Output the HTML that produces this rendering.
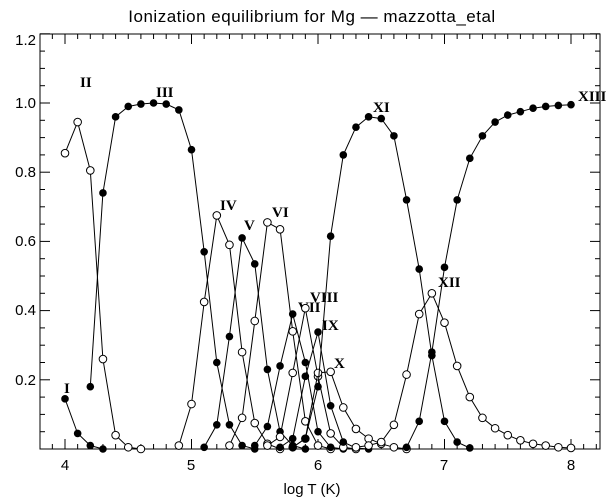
<!DOCTYPE html>
<html><head><meta charset="utf-8"><style>
html,body{margin:0;padding:0;background:#fff;}
svg{display:block}
.t{font-family:"Liberation Sans",sans-serif;font-size:15px;fill:#000}
.r{font-family:"Liberation Serif",serif;font-size:15px;font-weight:bold;fill:#000}
</style></head><body>
<svg id="s" width="615" height="504" xmlns="http://www.w3.org/2000/svg">
<rect width="615" height="504" fill="#fff"/>
<text class="t" x="312" y="22" text-anchor="middle" style="font-size:17px;letter-spacing:0.5px">Ionization equilibrium for Mg —  mazzotta_etal</text>
<text class="t" x="312" y="494" text-anchor="middle">log T (K)</text>
<rect x="40" y="34" width="560" height="415" fill="none" stroke="#000" stroke-width="1"/>
<g class="t" text-anchor="middle">
<text x="65" y="470">4</text><text x="191" y="470">5</text><text x="318" y="470">6</text><text x="444" y="470">7</text><text x="571" y="470">8</text>
</g>
<g class="t" text-anchor="end">
<text x="36" y="45">1.2</text><text x="36" y="108">1.0</text><text x="36" y="177">0.8</text><text x="36" y="246">0.6</text><text x="36" y="315">0.4</text><text x="36" y="385">0.2</text>
</g>
<g class="r">
<text x="64" y="393">I</text><text x="80" y="87">II</text><text x="156" y="97">III</text><text x="220" y="210">IV</text><text x="244" y="230">V</text><text x="272" y="217">VI</text><text x="298" y="312">VII</text><text x="310" y="302">VIII</text><text x="322" y="330">IX</text><text x="334" y="368">X</text><text x="373" y="112">XI</text><text x="438" y="287">XII</text><text x="578" y="101">XIII</text>
</g>
<g id="g"></g>
</svg>
<script>
var X=function(t){return 65+(t-4)*126.5},Y=function(v){return 449-v*346};
var S=[
[4.0,[0.145,0.045,0.01,0.0]],
[4.0,[0.855,0.945,0.805,0.26,0.04,0.005,0]],
[4.2,[0.18,0.74,0.96,0.99,0.997,1.0,0.997,0.98,0.865,0.57,0.25,0.07,0.01,0]],
[4.9,[0.01,0.13,0.425,0.675,0.59,0.28,0.075,0.015,0]],
[5.1,[0.005,0.07,0.325,0.61,0.535,0.23,0.05,0.01,0]],
[5.3,[0.01,0.09,0.37,0.655,0.635,0.34,0.08,0.01,0]],
[5.5,[0.01,0.065,0.24,0.39,0.25,0.05,0.005,0]],
[5.6,[0.01,0.035,0.22,0.407,0.21,0.045,0.005,0]],
[5.7,[0.005,0.03,0.21,0.338,0.125,0.02,0.003,0]],
[5.8,[0.005,0.03,0.22,0.223,0.12,0.058,0.03,0.015,0.005,0]],
[5.8,[0.005,0.03,0.18,0.615,0.85,0.93,0.96,0.955,0.905,0.72,0.52,0.27,0.08,0.02,0.003]],
[6.3,[0.005,0.01,0.02,0.07,0.215,0.39,0.45,0.365,0.24,0.15,0.09,0.06,0.04,0.025,0.015,0.01,0.005,0.003]],
[6.7,[0.005,0.08,0.28,0.525,0.72,0.84,0.905,0.945,0.965,0.975,0.985,0.99,0.993,0.995]]
];
var h='';
// ticks
for(var i=0;i<=55;i++){var t=3.8+i*0.1;var x=X(t);if(x<40||x>600)continue;var L=(Math.abs(t-Math.round(t))<0.01)?10:5;
h+='<line x1="'+x+'" y1="449" x2="'+x+'" y2="'+(449-L)+'" stroke="#000"/><line x1="'+x+'" y1="34" x2="'+x+'" y2="'+(34+L)+'" stroke="#000"/>';}
for(var i=0;i<=24;i++){var v=i*0.05;var y=Y(v);var L=(i%4==0)?10:5;
h+='<line x1="40" y1="'+y+'" x2="'+(40+L)+'" y2="'+y+'" stroke="#000"/><line x1="600" y1="'+y+'" x2="'+(600-L)+'" y2="'+y+'" stroke="#000"/>';}
S.forEach(function(s,k){var p=[];s[1].forEach(function(v,j){p.push(X(s[0]+j*0.1).toFixed(1)+','+Y(v).toFixed(1));});
h+='<polyline points="'+p.join(' ')+'" fill="none" stroke="#000" stroke-width="1"/>';
s[1].forEach(function(v,j){var x=X(s[0]+j*0.1),y=Y(v);
h+=(k%2==0)?'<circle cx="'+x+'" cy="'+y+'" r="3.8" fill="#000"/>':'<circle cx="'+x+'" cy="'+y+'" r="3.8" fill="#fff" stroke="#000"/>';});});
document.getElementById('g').innerHTML=h;
</script>
</body></html>
